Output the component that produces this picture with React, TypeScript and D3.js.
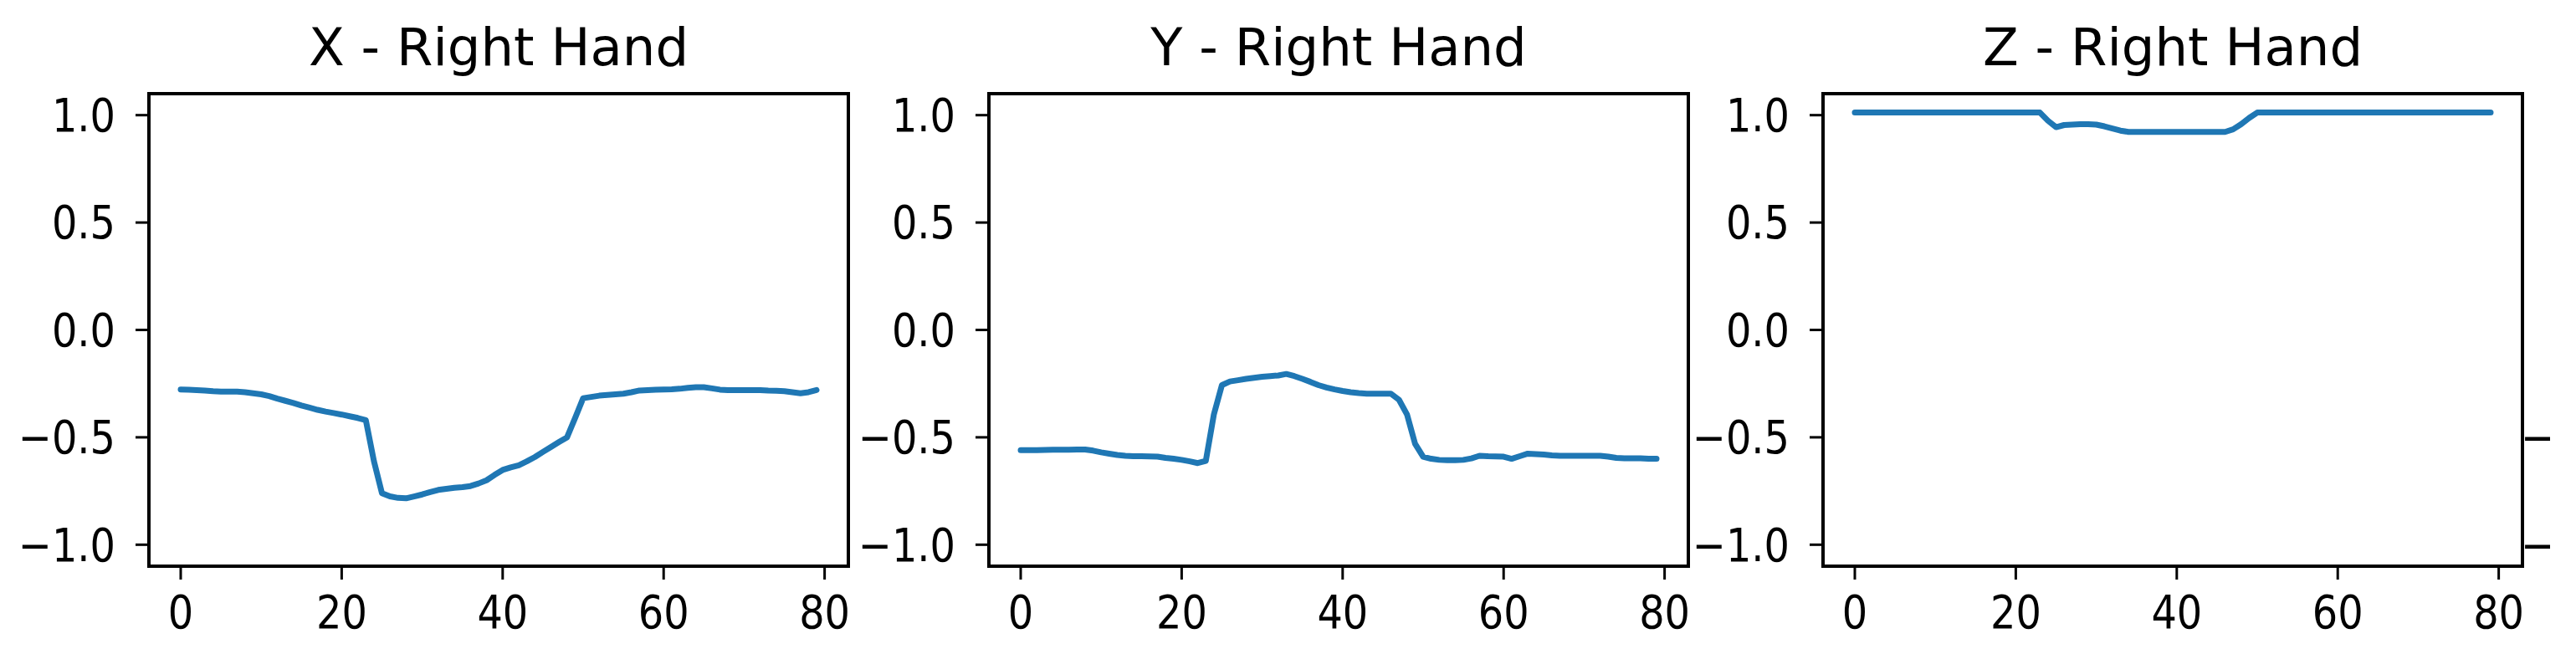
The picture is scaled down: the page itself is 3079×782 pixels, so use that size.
import React from 'react';
import * as d3 from 'd3';

// normalised right hand direction, one value per frame (0..79)
const xRight = [
  -0.277, -0.278, -0.28, -0.282, -0.285, -0.287, -0.287, -0.287, -0.29, -0.295,
  -0.3, -0.308, -0.32, -0.33, -0.34, -0.352, -0.362, -0.372, -0.38, -0.387,
  -0.394, -0.402, -0.41, -0.42, -0.61, -0.76, -0.775, -0.782, -0.784, -0.775,
  -0.766, -0.755, -0.745, -0.74, -0.735, -0.732, -0.727, -0.715, -0.7, -0.675,
  -0.652, -0.64, -0.63, -0.612, -0.592, -0.568, -0.545, -0.522, -0.5, -0.41,
  -0.318, -0.312, -0.306, -0.303, -0.3, -0.297, -0.29, -0.282, -0.28, -0.278,
  -0.277, -0.276, -0.274, -0.27, -0.267, -0.267, -0.272, -0.278, -0.28, -0.28,
  -0.28, -0.28, -0.28, -0.282, -0.283, -0.285, -0.29, -0.295, -0.29, -0.28,
];

const yRight = [
  -0.56, -0.56, -0.56, -0.559, -0.558, -0.558, -0.558, -0.557, -0.557, -0.562,
  -0.57, -0.576, -0.582, -0.586, -0.588, -0.588, -0.589, -0.59, -0.596, -0.6,
  -0.605, -0.612, -0.62, -0.61, -0.394, -0.257, -0.24, -0.234, -0.228, -0.223,
  -0.218, -0.215, -0.212, -0.205, -0.215, -0.228, -0.242, -0.257, -0.268, -0.277,
  -0.284, -0.29, -0.294, -0.297, -0.297, -0.297, -0.297, -0.325, -0.394, -0.53,
  -0.59, -0.6, -0.605, -0.606, -0.606, -0.605, -0.598, -0.586, -0.588, -0.589,
  -0.59, -0.6, -0.588, -0.576, -0.578, -0.58, -0.584, -0.586, -0.586, -0.586,
  -0.586, -0.586, -0.586, -0.59, -0.596, -0.598, -0.598, -0.598, -0.6, -0.6,
];

const zRight = [
  1.012, 1.012, 1.012, 1.012, 1.012, 1.012, 1.012, 1.012, 1.012, 1.012,
  1.012, 1.012, 1.012, 1.012, 1.012, 1.012, 1.012, 1.012, 1.012, 1.012,
  1.012, 1.012, 1.012, 1.012, 0.974, 0.944, 0.954, 0.956, 0.958, 0.958,
  0.956, 0.948, 0.938, 0.928, 0.922, 0.922, 0.922, 0.922, 0.922, 0.922,
  0.922, 0.922, 0.922, 0.922, 0.922, 0.922, 0.922, 0.934, 0.958, 0.987,
  1.012, 1.012, 1.012, 1.012, 1.012, 1.012, 1.012, 1.012, 1.012, 1.012,
  1.012, 1.012, 1.012, 1.012, 1.012, 1.012, 1.012, 1.012, 1.012, 1.012,
  1.012, 1.012, 1.012, 1.012, 1.012, 1.012, 1.012, 1.012, 1.012, 1.012,
];

const titles = ['X - Right Hand', 'Y - Right Hand', 'Z - Right Hand'];
const series = [xRight, yRight, zRight];
const xTicks = [0, 20, 40, 60, 80];
const yTicks = [-1.0, -0.5, 0.0, 0.5, 1.0];
const yLimits = [-1.1, 1.1];

const W = 3079;
const H = 782;
const panelLefts = [178, 1182, 2179];
const ghostLabelStart = 3013; // next subplot's labels, only their minus signs survive the crop
const top = 112;
const panelW = 836;
const panelH = 565;
const font = 'DejaVu Sans, sans-serif';
const tickFont = 55;
const squash = 0.87;
const fmt = d3.format('.1f');

const Panel: React.FC<{ left: number; title: string; values: number[] }> = ({ left, title, values }) => {
  const n = values.length - 1;
  const x = d3
    .scaleLinear()
    .domain([-0.05 * n, n * 1.05])
    .range([left, left + panelW]);
  const y = d3.scaleLinear().domain(yLimits).range([top + panelH, top]);
  const line = d3
    .line<number>()
    .x((_, i) => x(i))
    .y(d => y(d));
  const bottom = top + panelH;

  return (
    <g>
      <text x={left + panelW / 2} y={78} textAnchor="middle" fontSize={62.5} fontFamily={font} fill="#000">
        {title}
      </text>
      <path d={line(values) || ''} fill="none" stroke="#1f77b4" strokeWidth={7} strokeLinejoin="round" strokeLinecap="round" />
      {yTicks.map(t => (
        <g key={t}>
          <line x1={left - 16} x2={left} y1={y(t)} y2={y(t)} stroke="#000" strokeWidth={3} />
          <text
            transform={`translate(${left - 40},${y(t)}) scale(${squash},1)`}
            textAnchor="end"
            dominantBaseline="central"
            fontSize={tickFont}
            fontFamily={font}
            fill="#000"
          >
            {fmt(t)}
          </text>
        </g>
      ))}
      {xTicks.map(t => (
        <g key={t}>
          <line x1={x(t)} x2={x(t)} y1={bottom} y2={bottom + 16} stroke="#000" strokeWidth={3} />
          <text
            transform={`translate(${x(t)},${bottom + 74}) scale(${squash},1)`}
            textAnchor="middle"
            fontSize={tickFont}
            fontFamily={font}
            fill="#000"
          >
            {t}
          </text>
        </g>
      ))}
      <rect x={left} y={top} width={panelW} height={panelH} fill="none" stroke="#000" strokeWidth={4} />
    </g>
  );
};

export default function App() {
  const y = d3.scaleLinear().domain(yLimits).range([top + panelH, top]);
  return (
    <svg
      width={W}
      height={H}
      style={{ position: 'absolute', left: 0, top: 0, background: '#fff' }}
    >
      <rect width={W} height={H} fill="#fff" />
      {panelLefts.map((l, i) => (
        <Panel key={i} left={l} title={titles[i]} values={series[i]} />
      ))}
      {yTicks.filter(t => t < 0).map(t => (
        <text
          key={t}
          transform={`translate(${ghostLabelStart},${y(t)}) scale(${squash},1)`}
          textAnchor="start"
          dominantBaseline="central"
          fontSize={tickFont}
          fontFamily={font}
          fill="#000"
        >
          −
        </text>
      ))}
    </svg>
  );
}
